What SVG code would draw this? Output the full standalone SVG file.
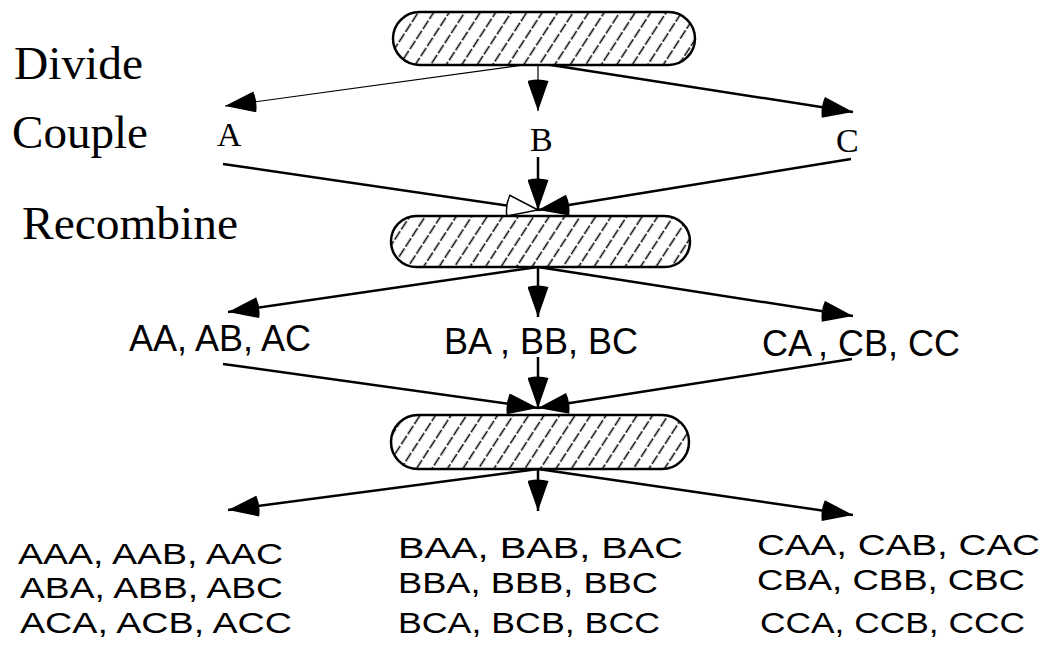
<svg xmlns="http://www.w3.org/2000/svg" width="1045" height="647" viewBox="0 0 1045 647">
<style>
.pill{fill:url(#hatch);stroke:#000;stroke-width:2.5}
.serif{font-family:"Liberation Serif","Times New Roman",serif;fill:#000}
.sans{font-family:"Liberation Sans",Arial,sans-serif;fill:#000;font-size:36px}
.low{font-size:30px}
.thin{stroke:#000;stroke-width:1.2;fill:none;marker-end:url(#ah)}
.thick{stroke:#000;stroke-width:2.5;fill:none;marker-end:url(#ah)}
.open{stroke:#000;stroke-width:2.5;fill:none;marker-end:url(#ahOpen)}
</style>
<defs>
<pattern id="hatch" patternUnits="userSpaceOnUse" width="13" height="48" patternTransform="rotate(33)">
<rect width="13" height="48" fill="#fff"/>
<line x1="6.5" y1="0" x2="6.5" y2="48" stroke="#000" stroke-width="1.5" stroke-dasharray="10 2"/>
</pattern>
<marker id="ah" markerUnits="userSpaceOnUse" viewBox="-3 0 33 21" refX="30" refY="10.5" markerWidth="33" markerHeight="21" orient="auto">
<path d="M0,0 Q-3,10.5 0,21 L30,10.5 Z" fill="#000"/>
</marker>
<marker id="ahOpen" markerUnits="userSpaceOnUse" viewBox="-4 -1 35 23" refX="30" refY="10.5" markerWidth="35" markerHeight="23" orient="auto">
<path d="M0,0 Q-3,10.5 0,21 L30,10.5 Z" fill="#fff" stroke="#000" stroke-width="1.5"/>
</marker>
</defs>
<rect width="1045" height="647" fill="#fff"/>

<g id="connectors">
<line class="thin" x1="538" y1="63" x2="225" y2="106"/>
<line class="thin" x1="538" y1="63" x2="538" y2="111"/>
<line class="thick" x1="538" y1="63" x2="853" y2="112"/>
<line class="open" x1="223" y1="164" x2="538" y2="210"/>
<line class="thick" x1="538" y1="157" x2="538" y2="210"/>
<line class="thick" x1="851" y1="159" x2="538" y2="210"/>
<line class="thick" x1="538" y1="267" x2="228" y2="312"/>
<line class="thick" x1="538" y1="267" x2="538" y2="317"/>
<line class="thick" x1="538" y1="267" x2="853" y2="316"/>
<line class="thick" x1="223" y1="364" x2="538" y2="408"/>
<line class="thick" x1="538" y1="357" x2="538" y2="408"/>
<line class="thick" x1="852" y1="359" x2="538" y2="408"/>
<line class="thick" x1="538" y1="469" x2="228" y2="510"/>
<line class="thick" x1="538" y1="469" x2="538" y2="511"/>
<line class="thick" x1="538" y1="469" x2="853" y2="515"/>
</g>

<g id="pill-divide"><rect class="pill" x="393" y="12" width="302" height="53" rx="26.5"/></g>
<g id="pill-recombine1"><rect class="pill" x="391" y="216" width="299" height="51" rx="25.5"/></g>
<g id="pill-recombine2"><rect class="pill" x="391" y="415" width="298" height="54" rx="27"/></g>

<g id="label-divide"><text class="serif" x="14" y="79" font-size="47" textLength="129" lengthAdjust="spacingAndGlyphs">Divide</text></g>
<g id="label-couple"><text class="serif" x="12" y="148" font-size="47" textLength="136" lengthAdjust="spacingAndGlyphs">Couple</text></g>
<g id="label-recombine"><text class="serif" x="22" y="239" font-size="47" textLength="216" lengthAdjust="spacingAndGlyphs">Recombine</text></g>

<g id="node-A"><text class="serif" x="217" y="146" font-size="34">A</text></g>
<g id="node-B"><text class="serif" x="530" y="151" font-size="34">B</text></g>
<g id="node-C"><text class="serif" x="836" y="152" font-size="34">C</text></g>

<g id="node-AA"><text class="sans" x="129" y="351">AA, AB, AC</text></g>
<g id="node-BA"><text class="sans" x="444" y="354">BA<tspan dx="8">, BB, BC</tspan></text></g>
<g id="node-CA"><text class="sans" x="762" y="356" font-size="35">CA<tspan dx="6">, CB, CC</tspan></text></g>

<g id="node-AAx">
<text class="sans low" x="18" y="564" textLength="265" lengthAdjust="spacingAndGlyphs">AAA, AAB, AAC</text>
<text class="sans low" x="20" y="598" textLength="263" lengthAdjust="spacingAndGlyphs">ABA, ABB, ABC</text>
<text class="sans low" x="20" y="633" textLength="272" lengthAdjust="spacingAndGlyphs">ACA, ACB, ACC</text>
</g>
<g id="node-BAx">
<text class="sans low" x="398" y="558" textLength="285" lengthAdjust="spacingAndGlyphs">BAA, BAB, BAC</text>
<text class="sans low" x="398" y="593" textLength="260" lengthAdjust="spacingAndGlyphs">BBA, BBB, BBC</text>
<text class="sans low" x="398" y="633" textLength="262" lengthAdjust="spacingAndGlyphs">BCA, BCB, BCC</text>
</g>
<g id="node-CAx">
<text class="sans low" x="757" y="555" textLength="283" lengthAdjust="spacingAndGlyphs">CAA, CAB, CAC</text>
<text class="sans low" x="757" y="590" textLength="268" lengthAdjust="spacingAndGlyphs">CBA, CBB, CBC</text>
<text class="sans low" x="760" y="633" textLength="265" lengthAdjust="spacingAndGlyphs">CCA, CCB, CCC</text>
</g>
</svg>
